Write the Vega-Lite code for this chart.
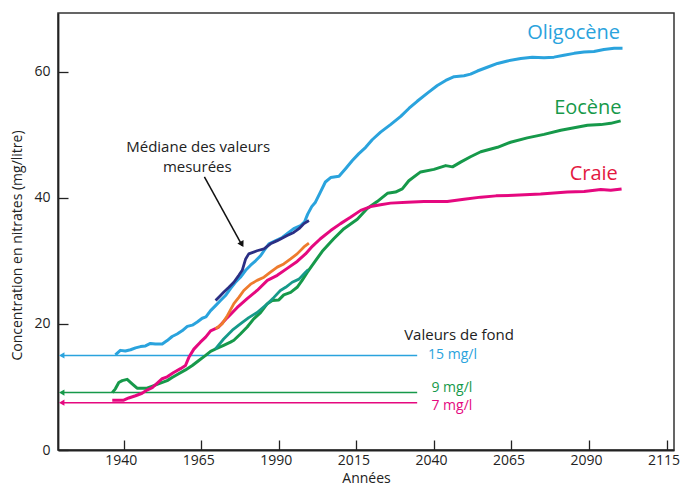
{
  "$schema": "https://vega.github.io/schema/vega-lite/v6.json",
  "autosize": {"type": "none"},
  "width": 616,
  "height": 437,
  "padding": {"left": 58, "top": 13, "right": 6, "bottom": 36},
  "background": "white",
  "config": {
    "font": "Open Sans",
    "view": {"stroke": "#333333", "strokeWidth": 1.5},
    "axis": {"grid": false, "domainColor": "#222222", "domainWidth": 1.8, "tickColor": "#222222", "tickWidth": 1.3, "labelColor": "#222222", "titleColor": "#222222", "labelFontSize": 14, "titleFontSize": 14, "titleFontWeight": "normal", "labelFont": "Open Sans", "titleFont": "Open Sans"}
  },
  "datasets": {
    "model": [
      {"series": "Oligocène", "year": 1937.3, "value": 15.1},
      {"series": "Oligocène", "year": 1938.9, "value": 15.8},
      {"series": "Oligocène", "year": 1940.5, "value": 15.7},
      {"series": "Oligocène", "year": 1942.2, "value": 15.9},
      {"series": "Oligocène", "year": 1943.8, "value": 16.2},
      {"series": "Oligocène", "year": 1945.4, "value": 16.4},
      {"series": "Oligocène", "year": 1947.0, "value": 16.5},
      {"series": "Oligocène", "year": 1948.6, "value": 16.9},
      {"series": "Oligocène", "year": 1950.2, "value": 16.8},
      {"series": "Oligocène", "year": 1952.4, "value": 16.8},
      {"series": "Oligocène", "year": 1954.0, "value": 17.35},
      {"series": "Oligocène", "year": 1955.6, "value": 18.0},
      {"series": "Oligocène", "year": 1957.2, "value": 18.4},
      {"series": "Oligocène", "year": 1958.8, "value": 18.9},
      {"series": "Oligocène", "year": 1960.5, "value": 19.6},
      {"series": "Oligocène", "year": 1962.1, "value": 19.8},
      {"series": "Oligocène", "year": 1963.7, "value": 20.3},
      {"series": "Oligocène", "year": 1965.3, "value": 20.9},
      {"series": "Oligocène", "year": 1966.5, "value": 21.1},
      {"series": "Oligocène", "year": 1968.0, "value": 22.1},
      {"series": "Oligocène", "year": 1969.6, "value": 22.9},
      {"series": "Oligocène", "year": 1971.2, "value": 23.7},
      {"series": "Oligocène", "year": 1972.8, "value": 24.5},
      {"series": "Oligocène", "year": 1974.4, "value": 25.6},
      {"series": "Oligocène", "year": 1976.0, "value": 26.6},
      {"series": "Oligocène", "year": 1977.6, "value": 27.4},
      {"series": "Oligocène", "year": 1979.3, "value": 28.5},
      {"series": "Oligocène", "year": 1980.9, "value": 29.3},
      {"series": "Oligocène", "year": 1982.5, "value": 30.0},
      {"series": "Oligocène", "year": 1984.1, "value": 30.8},
      {"series": "Oligocène", "year": 1985.2, "value": 31.6},
      {"series": "Oligocène", "year": 1986.8, "value": 32.7},
      {"series": "Oligocène", "year": 1989.0, "value": 33.2},
      {"series": "Oligocène", "year": 1991.1, "value": 33.7},
      {"series": "Oligocène", "year": 1993.2, "value": 34.5},
      {"series": "Oligocène", "year": 1994.8, "value": 35.1},
      {"series": "Oligocène", "year": 1997.0, "value": 35.6},
      {"series": "Oligocène", "year": 1998.3, "value": 36.2},
      {"series": "Oligocène", "year": 1999.3, "value": 37.4},
      {"series": "Oligocène", "year": 2000.6, "value": 38.6},
      {"series": "Oligocène", "year": 2001.8, "value": 39.3},
      {"series": "Oligocène", "year": 2003.4, "value": 40.9},
      {"series": "Oligocène", "year": 2005.0, "value": 42.5},
      {"series": "Oligocène", "year": 2006.7, "value": 43.2},
      {"series": "Oligocène", "year": 2009.4, "value": 43.4},
      {"series": "Oligocène", "year": 2011.5, "value": 44.6},
      {"series": "Oligocène", "year": 2013.7, "value": 45.9},
      {"series": "Oligocène", "year": 2015.8, "value": 47.0},
      {"series": "Oligocène", "year": 2018.0, "value": 48.0},
      {"series": "Oligocène", "year": 2020.1, "value": 49.2},
      {"series": "Oligocène", "year": 2022.8, "value": 50.4},
      {"series": "Oligocène", "year": 2026.0, "value": 51.6},
      {"series": "Oligocène", "year": 2029.3, "value": 52.9},
      {"series": "Oligocène", "year": 2032.0, "value": 54.2},
      {"series": "Oligocène", "year": 2034.6, "value": 55.3},
      {"series": "Oligocène", "year": 2037.9, "value": 56.6},
      {"series": "Oligocène", "year": 2041.1, "value": 57.8},
      {"series": "Oligocène", "year": 2043.8, "value": 58.6},
      {"series": "Oligocène", "year": 2046.5, "value": 59.2},
      {"series": "Oligocène", "year": 2049.7, "value": 59.35},
      {"series": "Oligocène", "year": 2051.8, "value": 59.6},
      {"series": "Oligocène", "year": 2054.0, "value": 60.1},
      {"series": "Oligocène", "year": 2057.2, "value": 60.7},
      {"series": "Oligocène", "year": 2060.5, "value": 61.3},
      {"series": "Oligocène", "year": 2063.7, "value": 61.7},
      {"series": "Oligocène", "year": 2068.0, "value": 62.1},
      {"series": "Oligocène", "year": 2071.7, "value": 62.3},
      {"series": "Oligocène", "year": 2075.5, "value": 62.2},
      {"series": "Oligocène", "year": 2078.7, "value": 62.3},
      {"series": "Oligocène", "year": 2081.9, "value": 62.6},
      {"series": "Oligocène", "year": 2085.2, "value": 62.9},
      {"series": "Oligocène", "year": 2088.4, "value": 63.1},
      {"series": "Oligocène", "year": 2091.6, "value": 63.2},
      {"series": "Oligocène", "year": 2094.8, "value": 63.5},
      {"series": "Oligocène", "year": 2098.1, "value": 63.7},
      {"series": "Oligocène", "year": 2100.8, "value": 63.7},

      {"series": "Eocène", "year": 1936.3, "value": 9.1},
      {"series": "Eocène", "year": 1937.3, "value": 9.7},
      {"series": "Eocène", "year": 1938.4, "value": 10.7},
      {"series": "Eocène", "year": 1939.5, "value": 11.0},
      {"series": "Eocène", "year": 1941.1, "value": 11.2},
      {"series": "Eocène", "year": 1942.7, "value": 10.5},
      {"series": "Eocène", "year": 1944.3, "value": 9.8},
      {"series": "Eocène", "year": 1945.9, "value": 9.8},
      {"series": "Eocène", "year": 1947.5, "value": 9.8},
      {"series": "Eocène", "year": 1949.7, "value": 10.2},
      {"series": "Eocène", "year": 1951.8, "value": 10.6},
      {"series": "Eocène", "year": 1954.0, "value": 11.0},
      {"series": "Eocène", "year": 1955.6, "value": 11.5},
      {"series": "Eocène", "year": 1957.7, "value": 12.1},
      {"series": "Eocène", "year": 1959.9, "value": 12.7},
      {"series": "Eocène", "year": 1962.1, "value": 13.4},
      {"series": "Eocène", "year": 1964.2, "value": 14.2},
      {"series": "Eocène", "year": 1966.4, "value": 15.0},
      {"series": "Eocène", "year": 1968.0, "value": 15.65},
      {"series": "Eocène", "year": 1970.0, "value": 16.1},
      {"series": "Eocène", "year": 1972.2, "value": 16.6},
      {"series": "Eocène", "year": 1974.4, "value": 17.1},
      {"series": "Eocène", "year": 1975.5, "value": 17.4},
      {"series": "Eocène", "year": 1977.6, "value": 18.4},
      {"series": "Eocène", "year": 1979.8, "value": 19.5},
      {"series": "Eocène", "year": 1981.9, "value": 20.8},
      {"series": "Eocène", "year": 1984.1, "value": 21.8},
      {"series": "Eocène", "year": 1986.3, "value": 23.2},
      {"series": "Eocène", "year": 1987.9, "value": 23.7},
      {"series": "Eocène", "year": 1990.0, "value": 23.8},
      {"series": "Eocène", "year": 1991.6, "value": 24.6},
      {"series": "Eocène", "year": 1993.8, "value": 25.0},
      {"series": "Eocène", "year": 1995.9, "value": 25.8},
      {"series": "Eocène", "year": 1997.5, "value": 26.9},
      {"series": "Eocène", "year": 1999.2, "value": 28.2},
      {"series": "Eocène", "year": 2001.5, "value": 29.8},
      {"series": "Eocène", "year": 2004.0, "value": 31.5},
      {"series": "Eocène", "year": 2007.7, "value": 33.5},
      {"series": "Eocène", "year": 2011.0, "value": 35.1},
      {"series": "Eocène", "year": 2015.3, "value": 36.6},
      {"series": "Eocène", "year": 2018.5, "value": 38.3},
      {"series": "Eocène", "year": 2021.7, "value": 39.4},
      {"series": "Eocène", "year": 2025.0, "value": 40.7},
      {"series": "Eocène", "year": 2027.6, "value": 40.9},
      {"series": "Eocène", "year": 2029.8, "value": 41.4},
      {"series": "Eocène", "year": 2031.9, "value": 42.7},
      {"series": "Eocène", "year": 2035.7, "value": 44.1},
      {"series": "Eocène", "year": 2040.0, "value": 44.5},
      {"series": "Eocène", "year": 2043.8, "value": 45.1},
      {"series": "Eocène", "year": 2046.0, "value": 44.9},
      {"series": "Eocène", "year": 2048.6, "value": 45.65},
      {"series": "Eocène", "year": 2051.8, "value": 46.5},
      {"series": "Eocène", "year": 2055.1, "value": 47.3},
      {"series": "Eocène", "year": 2060.5, "value": 48.0},
      {"series": "Eocène", "year": 2064.7, "value": 48.8},
      {"series": "Eocène", "year": 2070.1, "value": 49.5},
      {"series": "Eocène", "year": 2075.5, "value": 50.05},
      {"series": "Eocène", "year": 2080.9, "value": 50.7},
      {"series": "Eocène", "year": 2085.2, "value": 51.1},
      {"series": "Eocène", "year": 2089.5, "value": 51.5},
      {"series": "Eocène", "year": 2093.8, "value": 51.6},
      {"series": "Eocène", "year": 2097.0, "value": 51.8},
      {"series": "Eocène", "year": 2100.2, "value": 52.2},

      {"series": "Craie", "year": 1936.3, "value": 7.9},
      {"series": "Craie", "year": 1940.0, "value": 7.9},
      {"series": "Craie", "year": 1941.6, "value": 8.25},
      {"series": "Craie", "year": 1943.8, "value": 8.6},
      {"series": "Craie", "year": 1945.9, "value": 9.0},
      {"series": "Craie", "year": 1947.5, "value": 9.5},
      {"series": "Craie", "year": 1949.2, "value": 9.9},
      {"series": "Craie", "year": 1950.8, "value": 10.6},
      {"series": "Craie", "year": 1952.4, "value": 11.3},
      {"series": "Craie", "year": 1954.0, "value": 11.6},
      {"series": "Craie", "year": 1956.1, "value": 12.3},
      {"series": "Craie", "year": 1958.3, "value": 12.9},
      {"series": "Craie", "year": 1959.9, "value": 13.4},
      {"series": "Craie", "year": 1961.0, "value": 14.7},
      {"series": "Craie", "year": 1962.6, "value": 16.0},
      {"series": "Craie", "year": 1964.7, "value": 17.1},
      {"series": "Craie", "year": 1966.4, "value": 17.9},
      {"series": "Craie", "year": 1968.0, "value": 18.9},
      {"series": "Craie", "year": 1970.6, "value": 19.5},
      {"series": "Craie", "year": 1973.4, "value": 21.0},
      {"series": "Craie", "year": 1976.6, "value": 22.6},
      {"series": "Craie", "year": 1979.8, "value": 24.0},
      {"series": "Craie", "year": 1983.0, "value": 25.3},
      {"series": "Craie", "year": 1986.3, "value": 26.9},
      {"series": "Craie", "year": 1989.5, "value": 27.7},
      {"series": "Craie", "year": 1992.7, "value": 28.8},
      {"series": "Craie", "year": 1995.9, "value": 29.9},
      {"series": "Craie", "year": 1998.6, "value": 31.1},
      {"series": "Craie", "year": 2000.8, "value": 32.3},
      {"series": "Craie", "year": 2003.4, "value": 33.5},
      {"series": "Craie", "year": 2006.7, "value": 34.8},
      {"series": "Craie", "year": 2009.9, "value": 35.9},
      {"series": "Craie", "year": 2013.1, "value": 36.9},
      {"series": "Craie", "year": 2016.4, "value": 38.0},
      {"series": "Craie", "year": 2019.6, "value": 38.6},
      {"series": "Craie", "year": 2022.8, "value": 38.9},
      {"series": "Craie", "year": 2026.0, "value": 39.15},
      {"series": "Craie", "year": 2031.4, "value": 39.3},
      {"series": "Craie", "year": 2036.8, "value": 39.4},
      {"series": "Craie", "year": 2044.3, "value": 39.4},
      {"series": "Craie", "year": 2049.7, "value": 39.75},
      {"series": "Craie", "year": 2055.1, "value": 40.1},
      {"series": "Craie", "year": 2060.0, "value": 40.3},
      {"series": "Craie", "year": 2065.8, "value": 40.4},
      {"series": "Craie", "year": 2074.4, "value": 40.6},
      {"series": "Craie", "year": 2083.0, "value": 40.9},
      {"series": "Craie", "year": 2088.4, "value": 41.0},
      {"series": "Craie", "year": 2093.8, "value": 41.3},
      {"series": "Craie", "year": 2097.0, "value": 41.2},
      {"series": "Craie", "year": 2100.5, "value": 41.4}
    ],
    "measured": [
      {"series": "Eocène mesurée", "year": 1969.5, "value": 16.0},
      {"series": "Eocène mesurée", "year": 1972.2, "value": 17.6},
      {"series": "Eocène mesurée", "year": 1975.0, "value": 19.0},
      {"series": "Eocène mesurée", "year": 1977.6, "value": 20.0},
      {"series": "Eocène mesurée", "year": 1980.3, "value": 21.0},
      {"series": "Eocène mesurée", "year": 1983.0, "value": 21.8},
      {"series": "Eocène mesurée", "year": 1986.3, "value": 23.2},
      {"series": "Eocène mesurée", "year": 1988.4, "value": 24.2},
      {"series": "Eocène mesurée", "year": 1990.5, "value": 25.3},
      {"series": "Eocène mesurée", "year": 1992.2, "value": 25.8},
      {"series": "Eocène mesurée", "year": 1994.3, "value": 26.6},
      {"series": "Eocène mesurée", "year": 1996.5, "value": 27.1},
      {"series": "Eocène mesurée", "year": 1998.6, "value": 28.2},
      {"series": "Eocène mesurée", "year": 1999.5, "value": 28.6},

      {"series": "Craie mesurée", "year": 1969.6, "value": 19.2},
      {"series": "Craie mesurée", "year": 1971.7, "value": 20.0},
      {"series": "Craie mesurée", "year": 1973.4, "value": 21.3},
      {"series": "Craie mesurée", "year": 1975.5, "value": 23.2},
      {"series": "Craie mesurée", "year": 1977.1, "value": 24.2},
      {"series": "Craie mesurée", "year": 1978.7, "value": 25.3},
      {"series": "Craie mesurée", "year": 1980.9, "value": 26.3},
      {"series": "Craie mesurée", "year": 1983.0, "value": 26.9},
      {"series": "Craie mesurée", "year": 1985.2, "value": 27.4},
      {"series": "Craie mesurée", "year": 1987.3, "value": 28.2},
      {"series": "Craie mesurée", "year": 1989.5, "value": 29.0},
      {"series": "Craie mesurée", "year": 1991.6, "value": 29.5},
      {"series": "Craie mesurée", "year": 1993.8, "value": 30.3},
      {"series": "Craie mesurée", "year": 1995.9, "value": 31.1},
      {"series": "Craie mesurée", "year": 1998.1, "value": 32.2},
      {"series": "Craie mesurée", "year": 1999.7, "value": 32.8},

      {"series": "Oligocène mesurée", "year": 1969.6, "value": 23.7},
      {"series": "Oligocène mesurée", "year": 1971.2, "value": 24.5},
      {"series": "Oligocène mesurée", "year": 1972.2, "value": 25.0},
      {"series": "Oligocène mesurée", "year": 1973.9, "value": 25.8},
      {"series": "Oligocène mesurée", "year": 1975.5, "value": 26.6},
      {"series": "Oligocène mesurée", "year": 1977.1, "value": 27.7},
      {"series": "Oligocène mesurée", "year": 1978.2, "value": 28.5},
      {"series": "Oligocène mesurée", "year": 1979.3, "value": 30.3},
      {"series": "Oligocène mesurée", "year": 1980.3, "value": 31.1},
      {"series": "Oligocène mesurée", "year": 1983.0, "value": 31.6},
      {"series": "Oligocène mesurée", "year": 1985.2, "value": 31.9},
      {"series": "Oligocène mesurée", "year": 1987.3, "value": 32.7},
      {"series": "Oligocène mesurée", "year": 1989.5, "value": 33.2},
      {"series": "Oligocène mesurée", "year": 1992.7, "value": 34.0},
      {"series": "Oligocène mesurée", "year": 1994.8, "value": 34.5},
      {"series": "Oligocène mesurée", "year": 1996.5, "value": 35.1},
      {"series": "Oligocène mesurée", "year": 1998.1, "value": 35.9},
      {"series": "Oligocène mesurée", "year": 1999.7, "value": 36.4}
    ],
    "fond": [
      {"series": "Oligocène", "level": 15, "start": 1920.0, "end": 2034.6, "label": "15 mg/l", "labelYear": 2038.1, "labelValue": 15.0},
      {"series": "Eocène", "level": 9.1, "start": 1920.0, "end": 2034.6, "label": "9 mg/l", "labelYear": 2039.2, "labelValue": 9.9},
      {"series": "Craie", "level": 7.5, "start": 1920.0, "end": 2034.6, "label": "7 mg/l", "labelYear": 2039.2, "labelValue": 6.9}
    ],
    "labels": [
      {"series": "Oligocène", "text": "Oligocène", "year": 2100.0, "value": 66.1},
      {"series": "Eocène", "text": "Eocène", "year": 2100.5, "value": 54.2},
      {"series": "Craie", "text": "Craie", "year": 2099.3, "value": 43.8}
    ],
    "notes": [
      {"text": "Valeurs de fond", "year": 2048.1, "value": 18.3},
      {"text": "Médiane  des valeurs", "year": 1964.0, "value": 48.0},
      {"text": "mesurées", "year": 1963.7, "value": 44.9}
    ],
    "arrow": [
      {"year": 1966.0, "value": 43.3, "year2": 1978.2, "value2": 32.4}
    ],
    "arrowhead": [
      {"year": 1978.1, "value": 32.6}
    ]
  },
  "layer": [
    {
      "data": {"name": "fond"},
      "mark": {"type": "rule", "strokeWidth": 1.5},
      "encoding": {
        "x": {"field": "start", "type": "quantitative", "scale": {"domain": [1918.8, 2117.4], "nice": false, "zero": false}, "axis": {"title": "Années", "values": [1940, 1965, 1990, 2015, 2040, 2065, 2090, 2115], "format": "d", "tickSize": -10, "labelPadding": 13, "labelOffset": -3, "labelFlush": false, "titleY": 28, "titleBaseline": "middle", "titleFontSize": 14}},
        "x2": {"field": "end"},
        "y": {"field": "level", "type": "quantitative", "scale": {"domain": [0, 69.3], "nice": false}, "axis": {"title": "Concentration en nitrates (mg/litre)", "values": [0, 20, 40, 60], "tickSize": -10, "labelPadding": 18, "labelFlush": false, "titleX": -41, "titleY": 232, "titleBaseline": "middle", "titleFontSize": 14}},
        "color": {"field": "series", "type": "nominal", "legend": null, "scale": {"domain": ["Oligocène", "Eocène", "Craie", "Oligocène mesurée", "Eocène mesurée", "Craie mesurée"], "range": ["#2AA3DD", "#16994A", "#E5087F", "#2B2F84", "#169A8A", "#EE7B2D"]}}
      }
    },
    {
      "data": {"name": "fond"},
      "mark": {"type": "point", "shape": "triangle-left", "filled": true, "size": 40, "opacity": 1},
      "encoding": {
        "x": {"field": "start", "type": "quantitative"},
        "y": {"field": "level", "type": "quantitative"},
        "color": {"field": "series", "type": "nominal", "legend": null}
      }
    },
    {
      "data": {"name": "model"},
      "mark": {"type": "line", "strokeWidth": 3, "strokeJoin": "round"},
      "encoding": {
        "x": {"field": "year", "type": "quantitative"},
        "y": {"field": "value", "type": "quantitative"},
        "color": {"field": "series", "type": "nominal", "legend": null}
      }
    },
    {
      "data": {"name": "measured"},
      "mark": {"type": "line", "strokeWidth": 2.8, "strokeJoin": "round"},
      "encoding": {
        "x": {"field": "year", "type": "quantitative"},
        "y": {"field": "value", "type": "quantitative"},
        "color": {"field": "series", "type": "nominal", "legend": null}
      }
    },
    {
      "data": {"name": "labels"},
      "mark": {"type": "text", "align": "right", "baseline": "middle", "fontSize": 20, "font": "Open Sans"},
      "encoding": {
        "x": {"field": "year", "type": "quantitative"},
        "y": {"field": "value", "type": "quantitative"},
        "text": {"field": "text"},
        "color": {"condition": {"test": "datum.series === 'Craie'", "value": "#E3183F"}, "field": "series", "type": "nominal", "legend": null}
      }
    },
    {
      "data": {"name": "fond"},
      "mark": {"type": "text", "align": "left", "baseline": "middle", "fontSize": 14, "font": "Open Sans"},
      "encoding": {
        "x": {"field": "labelYear", "type": "quantitative"},
        "y": {"field": "labelValue", "type": "quantitative"},
        "text": {"field": "label"},
        "color": {"field": "series", "type": "nominal", "legend": null}
      }
    },
    {
      "data": {"name": "notes"},
      "mark": {"type": "text", "align": "center", "baseline": "middle", "fontSize": 15, "font": "Open Sans", "color": "#222222"},
      "encoding": {
        "x": {"field": "year", "type": "quantitative"},
        "y": {"field": "value", "type": "quantitative"},
        "text": {"field": "text"}
      }
    },
    {
      "data": {"name": "arrow"},
      "mark": {"type": "rule", "strokeWidth": 1.5, "color": "#111111"},
      "encoding": {
        "x": {"field": "year", "type": "quantitative"},
        "y": {"field": "value", "type": "quantitative"},
        "x2": {"field": "year2"},
        "y2": {"field": "value2"}
      }
    },
    {
      "data": {"name": "arrowhead"},
      "mark": {"type": "point", "shape": "triangle-down", "filled": true, "size": 50, "angle": 331, "color": "#111111", "opacity": 1},
      "encoding": {
        "x": {"field": "year", "type": "quantitative"},
        "y": {"field": "value", "type": "quantitative"}
      }
    }
  ]
}
